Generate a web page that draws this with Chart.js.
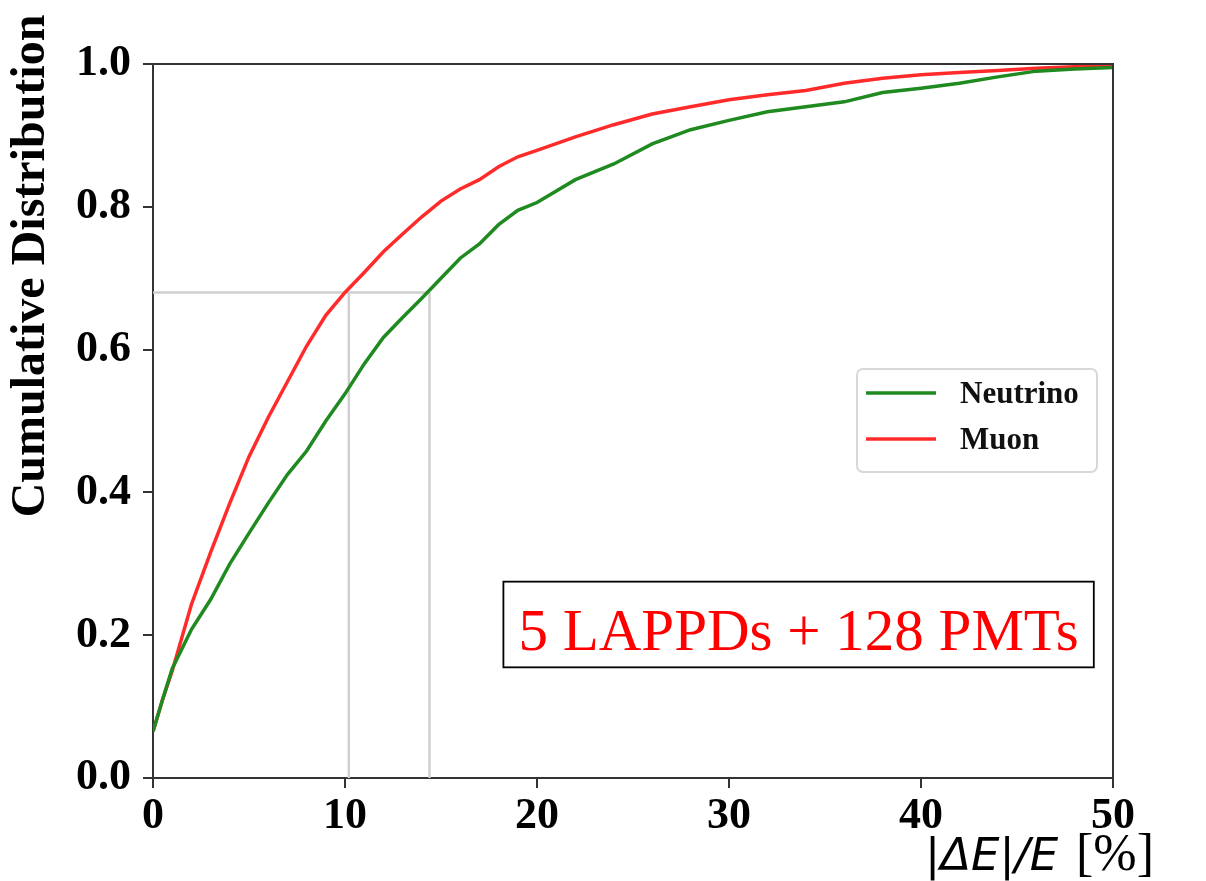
<!DOCTYPE html>
<html>
<head>
<meta charset="utf-8">
<title>Cumulative Distribution</title>
<script src="https://cdn.jsdelivr.net/npm/chart.js@4.4.1/dist/chart.umd.min.js"></script>
<style>
  html, body { margin: 0; padding: 0; background: #fff; }
  #wrap { width: 1206px; height: 881px; position: relative; }
</style>
</head>
<body>
<div id="wrap"><canvas id="cdfChart"></canvas></div>
<script>
const xValues = [0, 0.5, 1, 2, 3, 4, 5, 6, 7, 8, 9, 10, 11, 12, 13, 14, 15, 16, 17, 18, 19, 20,
                 22, 24, 26, 28, 30, 32, 34, 36, 38, 40, 42, 44, 46, 48, 50];

// Neutrino cumulative fraction
const neutrinoValues = [0.065, 0.11, 0.153, 0.208, 0.25, 0.30, 0.343, 0.385, 0.425, 0.458, 0.50, 0.538,
                        0.58, 0.617, 0.645, 0.672, 0.70, 0.728, 0.748, 0.775, 0.795, 0.806,
                        0.838, 0.86, 0.888, 0.908, 0.921, 0.933, 0.94, 0.947, 0.96, 0.966,
                        0.973, 0.982, 0.99, 0.993, 0.995];

// Muon cumulative fraction
const muonValues = [0.065, 0.11, 0.15, 0.243, 0.316, 0.385, 0.45, 0.505, 0.555, 0.605, 0.648, 0.68,
                    0.708, 0.737, 0.762, 0.786, 0.808, 0.825, 0.838, 0.856, 0.870, 0.879,
                    0.898, 0.915, 0.93, 0.94, 0.95, 0.957, 0.963, 0.973, 0.98, 0.985,
                    0.988, 0.991, 0.994, 0.996, 0.998];

// 68% guide lines and where each curve crosses it
const refLevel = 0.68;
const refCrossings = [10.2, 14.4];

const xTicks = [0, 10, 20, 30, 40, 50];
const yTicks = [0, 0.2, 0.4, 0.6, 0.8, 1.0];

const seriesNames = ['Neutrino', 'Muon'];
const seriesColors = ['#1f8a1f', '#ff2b2b'];
const boxLabel = '5 LAPPDs + 128 PMTs';

function toPoints(xs, ys) {
  return xs.map(function(x, i) { return { x: x, y: ys[i] }; });
}

const refColor = '#cfcfcf';
const refDatasets = [
  { data: [{ x: 0, y: refLevel }, { x: refCrossings[1], y: refLevel }] },
  { data: [{ x: refCrossings[0], y: 0 }, { x: refCrossings[0], y: refLevel }] },
  { data: [{ x: refCrossings[1], y: 0 }, { x: refCrossings[1], y: refLevel }] }
].map(function(d) {
  return Object.assign(d, { borderColor: refColor, borderWidth: 2.5, pointRadius: 0, order: 3, label: '' });
});

// frame, axis titles, legend and text box
const decorPlugin = {
  id: 'decor',
  afterDraw: function(chart) {
    const ctx = chart.ctx;
    const a = chart.chartArea;
    ctx.save();

    // top and right spines
    ctx.strokeStyle = '#333';
    ctx.lineWidth = 2;
    ctx.beginPath();
    ctx.moveTo(a.left, a.top);
    ctx.lineTo(a.right, a.top);
    ctx.lineTo(a.right, a.bottom);
    ctx.stroke();

    // y axis title
    ctx.fillStyle = '#000';
    ctx.font = 'bold 48px "Liberation Serif"';
    ctx.textAlign = 'center';
    ctx.textBaseline = 'alphabetic';
    ctx.translate(44, 266);
    ctx.rotate(-Math.PI / 2);
    ctx.fillText('Cumulative Distribution', 0, 0);
    ctx.restore();

    ctx.save();
    // x axis title
    ctx.fillStyle = '#000';
    ctx.textAlign = 'left';
    ctx.textBaseline = 'alphabetic';
    ctx.font = 'italic 45px "DejaVu Sans"';
    ctx.fillText('|\u0394E|/E', 925, 870);
    ctx.font = '52px "Liberation Serif"';
    ctx.fillText('[%]', 1076, 870);

    // legend
    const lx = a.right - 256, ly = a.top + 305, lw = 240, lh = 103;
    ctx.strokeStyle = '#d8d8d8';
    ctx.lineWidth = 2;
    ctx.beginPath();
    ctx.roundRect(lx, ly, lw, lh, 6);
    ctx.fillStyle = '#fff';
    ctx.fill();
    ctx.stroke();
    ctx.font = 'bold 31px "Liberation Serif"';
    ctx.textBaseline = 'middle';
    for (let i = 0; i < seriesNames.length; i++) {
      const yy = ly + 24 + i * 46;
      ctx.strokeStyle = seriesColors[i];
      ctx.lineWidth = 3.5;
      ctx.beginPath();
      ctx.moveTo(lx + 9, yy);
      ctx.lineTo(lx + 79, yy);
      ctx.stroke();
      ctx.fillStyle = '#111';
      ctx.fillText(seriesNames[i], lx + 103, yy + 2);
    }

    // annotation box
    const xs = chart.scales.x, ys = chart.scales.y;
    const bx0 = xs.getPixelForValue(18.25), bx1 = xs.getPixelForValue(49.0);
    const by0 = ys.getPixelForValue(0.275), by1 = ys.getPixelForValue(0.155);
    ctx.strokeStyle = '#000';
    ctx.lineWidth = 1.8;
    ctx.strokeRect(bx0, by0, bx1 - bx0, by1 - by0);
    ctx.fillStyle = '#ff0000';
    ctx.font = '59px "Liberation Serif"';
    ctx.textAlign = 'center';
    ctx.textBaseline = 'alphabetic';
    ctx.fillText(boxLabel, (bx0 + bx1) / 2, by0 + 68);
    ctx.restore();
  }
};

const tickFont = { family: 'Liberation Serif', size: 44, weight: 'bold' };

const cdfCtx = document.getElementById('cdfChart').getContext('2d');
const cdfChart = new Chart(cdfCtx, {
  type: 'line',
  data: {
    datasets: [
      {
        label: seriesNames[0],
        data: toPoints(xValues, neutrinoValues),
        borderColor: seriesColors[0],
        borderWidth: 3.5,
        pointRadius: 0,
        order: 1
      },
      {
        label: seriesNames[1],
        data: toPoints(xValues, muonValues),
        borderColor: seriesColors[1],
        borderWidth: 3.5,
        pointRadius: 0,
        order: 1
      }
    ].concat(refDatasets)
  },
  options: {
    responsive: true,
    maintainAspectRatio: false,
    animation: false,
    layout: { padding: { top: 64, right: 93, left: 0, bottom: 0 } },
    plugins: {
      legend: { display: false },
      tooltip: { enabled: false }
    },
    scales: {
      x: {
        type: 'linear',
        min: 0,
        max: 50,
        afterFit: function(scale) { scale.height = 103; },
        afterBuildTicks: function(scale) { scale.ticks = xTicks.map(function(v) { return { value: v }; }); },
        ticks: { color: '#000', font: tickFont, padding: 2, maxRotation: 0 },
        grid: { drawOnChartArea: false, drawTicks: true, tickLength: 10, color: '#333', lineWidth: 2 },
        border: { display: true, color: '#333', width: 2 }
      },
      y: {
        min: 0,
        max: 1,
        afterFit: function(scale) { scale.width = 153; },
        afterBuildTicks: function(scale) { scale.ticks = yTicks.map(function(v) { return { value: v }; }); },
        ticks: {
          color: '#000',
          font: tickFont,
          padding: 12,
          callback: function(v) { return Number(v).toFixed(1); }
        },
        grid: { drawOnChartArea: false, drawTicks: true, tickLength: 10, color: '#333', lineWidth: 2 },
        border: { display: true, color: '#333', width: 2 }
      }
    }
  },
  plugins: [decorPlugin]
});
</script>
</body>
</html>
